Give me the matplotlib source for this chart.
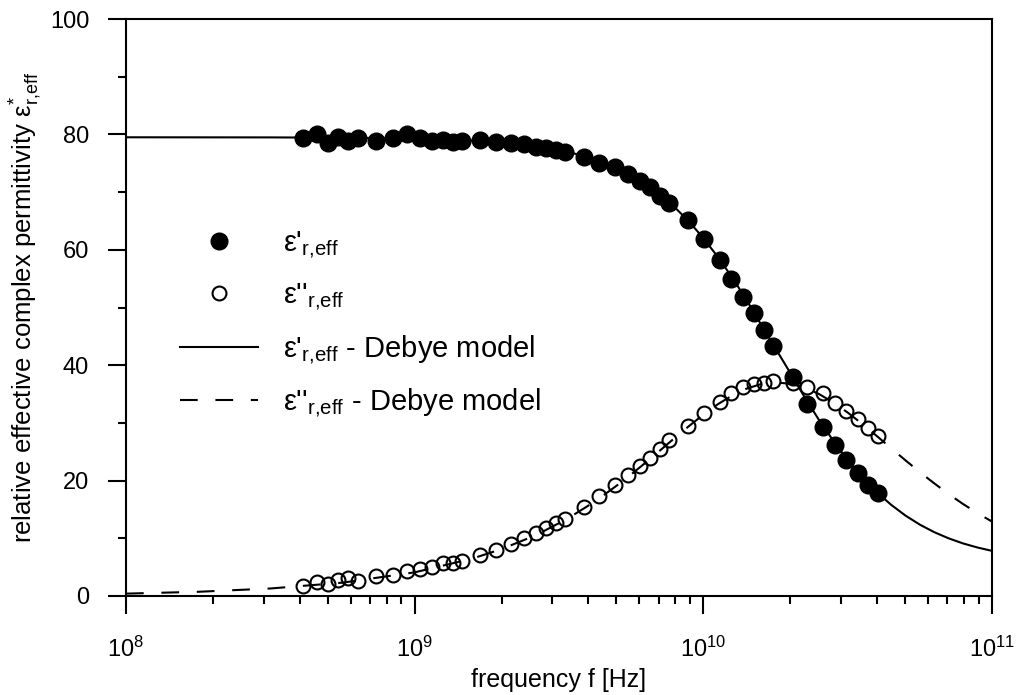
import numpy as np
import matplotlib
matplotlib.use("Agg")
import matplotlib.pyplot as plt
from matplotlib.ticker import LogLocator, MultipleLocator, NullFormatter

plt.rcParams['font.family'] = ['Liberation Sans', 'DejaVu Sans']
plt.rcParams['mathtext.fontset'] = 'custom'
plt.rcParams['mathtext.rm'] = 'Liberation Sans'
plt.rcParams['mathtext.it'] = 'Liberation Sans'
plt.rcParams['mathtext.default'] = 'regular'

# measured frequencies [GHz]
freq_ghz = [0.409, 0.458, 0.500, 0.544, 0.589, 0.635, 0.735, 0.839, 0.943, 1.04,
            1.145, 1.25, 1.355, 1.455, 1.68, 1.92, 2.15, 2.39, 2.63, 2.86,
            3.08, 3.32, 3.86, 4.35, 4.94, 5.50, 6.03, 6.56, 7.07, 7.62,
            8.83, 10.05, 11.4, 12.5, 13.7, 15.0, 16.2, 17.5, 20.4, 22.9,
            26.0, 28.6, 31.3, 34.4, 37.3, 40.3]

# real part eps'
eps_real = [79.4, 80.0, 78.5, 79.6, 78.9, 79.4, 78.9, 79.3, 80.0, 79.3,
            78.8, 79.05, 78.6, 78.9, 79.05, 78.7, 78.5, 78.4, 77.9, 77.7,
            77.3, 76.9, 76.0, 75.0, 74.3, 73.2, 72.0, 70.8, 69.4, 68.1,
            65.1, 61.8, 58.3, 54.9, 51.9, 49.0, 46.1, 43.35, 37.9, 33.2,
            29.3, 26.1, 23.5, 21.4, 19.2, 17.8]

# imaginary part eps''
eps_imag = [1.67, 2.47, 2.07, 2.82, 3.05, 2.65, 3.5, 3.7, 4.37, 4.66,
            4.95, 5.8, 5.8, 6.1, 7.1, 8.0, 9.0, 10.1, 10.9, 11.7,
            12.6, 13.4, 15.5, 17.3, 19.2, 20.9, 22.5, 24.0, 25.5, 27.0,
            29.5, 31.8, 33.6, 35.1, 36.2, 36.8, 37.0, 37.2, 37.0, 36.2,
            35.2, 33.5, 32.0, 30.6, 29.1, 27.8]

# Debye model curves
model_freq = [1e8, 1.78e8, 3.16e8, 5.62e8, 1e9, 1.58e9, 1.995e9, 2.51e9, 2.818e9, 3.16e9,
              3.548e9, 3.98e9, 4.467e9, 5.01e9, 5.623e9, 6.31e9, 7.079e9, 7.94e9, 8.913e9,
              1e10, 1.122e10, 1.26e10, 1.413e10, 1.58e10, 1.778e10, 2.0e10, 2.239e10,
              2.51e10, 2.818e10, 3.16e10, 3.548e10, 3.98e10, 4.467e10, 5.01e10, 5.623e10,
              6.31e10, 7.079e10, 7.94e10, 8.913e10, 1e11]
model_real = [79.5, 79.49, 79.48, 79.43, 79.27, 78.93, 78.60, 78.09, 77.73, 77.28,
              76.73, 76.04, 75.20, 74.17, 72.91, 71.39, 69.57, 67.42, 64.91,
              62.03, 58.78, 55.17, 51.28, 47.17, 42.91, 38.68, 34.53,
              30.59, 26.92, 23.59, 20.63, 18.05, 15.83, 13.95, 12.37,
              11.06, 9.99, 9.11, 8.40, 7.82]
model_imag = [0.41, 0.73, 1.30, 2.31, 4.10, 6.47, 8.11, 10.13, 11.32, 12.62,
              14.05, 15.61, 17.31, 19.13, 21.07, 23.11, 25.22, 27.35, 29.44,
              31.43, 33.23, 34.76, 35.94, 36.71, 37.0, 36.80, 36.13,
              35.03, 33.56, 31.81, 29.84, 27.77, 25.64, 23.53, 21.47,
              19.52, 17.66, 15.94, 14.35, 12.90]

f_hz = np.array(freq_ghz) * 1e9

fig = plt.figure(figsize=(10.17, 6.95), dpi=100)
ax = fig.add_axes([126 / 1017, 1 - 596 / 695, 866 / 1017, 577 / 695])

ln_real, = ax.plot(model_freq, model_real, color='black', lw=1.5, zorder=2)
ln_imag, = ax.plot(model_freq, model_imag, color='black', lw=1.5,
                   dashes=(8.5, 8.5), zorder=2)
pt_real, = ax.plot(f_hz, eps_real, 'o', color='black', ms=12, ls='none', zorder=3)
pt_imag, = ax.plot(f_hz, eps_imag, 'o', mfc='none', mec='black', mew=1.5, ms=10,
                   ls='none', zorder=4)

ax.set_xscale('log')
ax.set_xlim(1e8, 1e11)
ax.set_ylim(0, 100)
ax.yaxis.set_major_locator(MultipleLocator(20))
ax.yaxis.set_minor_locator(MultipleLocator(10))
ax.xaxis.set_major_locator(LogLocator(base=10, numticks=10))
ax.xaxis.set_minor_locator(LogLocator(base=10, subs=np.arange(2, 10), numticks=20))
ax.xaxis.set_minor_formatter(NullFormatter())

for s in ax.spines.values():
    s.set_linewidth(1.5)
ax.tick_params(which='both', direction='out', top=False, right=False, width=1.5,
               labelsize=17)
ax.tick_params(which='major', length=13)
ax.tick_params(which='minor', length=6)
ax.tick_params(axis='y', pad=13.5)
ax.tick_params(axis='x', pad=16)

ax.set_xlabel('frequency f [Hz]', fontsize=18, labelpad=5)
ax.set_ylabel('relative effective complex permittivity ε$^{*}_{r{,}eff}$',
              fontsize=18.5, labelpad=4)

labels = ["ε'$_{r{,}eff}$", "ε''$_{r{,}eff}$",
          "ε'$_{r{,}eff}$ - Debye model", "ε''$_{r{,}eff}$ - Debye model"]
leg = ax.legend([pt_real, pt_imag, ln_real, ln_imag], labels, loc='upper left',
                bbox_to_anchor=(0.0624, 0.635), frameon=False, fontsize=21,
                handlelength=2.67, handletextpad=0.86, labelspacing=0.7,
                borderpad=0, borderaxespad=0, numpoints=1)

fig.savefig('out.png', dpi=100)
